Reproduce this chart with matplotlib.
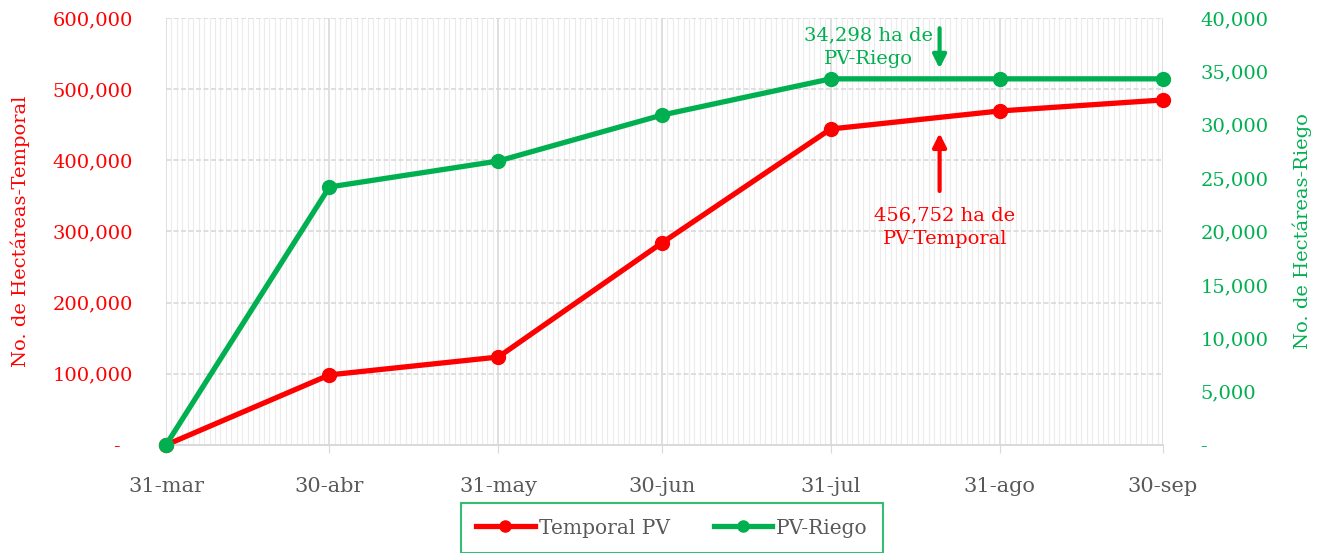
import matplotlib
matplotlib.use("Agg")
import matplotlib.pyplot as plt
import matplotlib.dates as mdates
import matplotlib.ticker as mticker
import numpy as np
from datetime import datetime

# data
fechas = ["2023-03-31", "2023-04-30", "2023-05-31", "2023-06-30", "2023-07-31", "2023-08-31", "2023-09-30"]
etiquetas = ["31-mar", "30-abr", "31-may", "30-jun", "31-jul", "31-ago", "30-sep"]
temporal = [0, 98500, 123600, 283800, 444000, 469300, 484800]
riego = [0, 24170, 26600, 30900, 34298, 34298, 34298]

RED = "#ff0000"; GREEN = "#00b050"; GRAY = "#595959"; GRID = "#d9d9d9"; MINOR = "#ececec"
plt.rcParams["font.family"] = ["DejaVu Serif"]

x = [datetime.strptime(f, "%Y-%m-%d") for f in fechas]

fig = plt.figure(figsize=(13.3, 5.53), dpi=100)
ax = fig.add_axes([0.1248, 0.1953, 0.7496, 0.7722])
ax2 = ax.twinx()

ax.plot(x, temporal, "-o", color=RED, lw=3.8, ms=10, clip_on=False, zorder=5, label="Temporal PV")
ax2.plot(x, riego, "-o", color=GREEN, lw=3.8, ms=10, clip_on=False, zorder=5, label="PV-Riego")

ax.set_xlim(x[0], x[-1])
ax.set_ylim(0, 600000)
ax2.set_ylim(0, 40000)
ax.set_yticks(np.arange(0, 600001, 100000))
ax2.set_yticks(np.arange(0, 40001, 5000))


def lfmt(v, p):
    return "-  " if v == 0 else "{:,.0f}".format(v)


def rfmt(v, p):
    return "-" if v == 0 else "{:,.0f}".format(v)


ax.yaxis.set_major_formatter(mticker.FuncFormatter(lfmt))
ax2.yaxis.set_major_formatter(mticker.FuncFormatter(rfmt))
ax.tick_params(axis="y", colors=RED, labelsize=14, length=0, pad=24)
ax2.tick_params(axis="y", colors=GREEN, labelsize=14, length=0, pad=27)

ax.set_xticks(x)
ax.set_xticklabels(etiquetas)
ax.xaxis.set_minor_locator(mdates.DayLocator())
ax.tick_params(axis="x", which="major", colors=GRID, labelcolor=GRAY, labelsize=15, length=6, pad=17)
ax.tick_params(axis="x", which="minor", length=0)

ax.grid(axis="x", which="minor", color=MINOR, lw=0.8, zorder=0)
ax.grid(axis="x", which="major", color=GRID, lw=1.2, zorder=0)
ax.grid(axis="y", color=GRID, lw=1.2, ls=(0, (3, 1.5)), zorder=0)
ax.set_axisbelow(True)
for a in (ax, ax2):
    for s in ("top", "right", "left"):
        a.spines[s].set_visible(False)
    a.spines["bottom"].set_color(GRID)
    a.spines["bottom"].set_linewidth(1.2)

ax.set_ylabel("No. de Hectáreas-Temporal", color=RED, fontsize=14, labelpad=16)
ax2.set_ylabel("No. de Hectáreas-Riego", color=GREEN, fontsize=14, labelpad=17)

# annotations
ax2.annotate("", xy=(datetime(2023, 8, 20), 35000), xytext=(datetime(2023, 8, 20), 39300),
             arrowprops=dict(arrowstyle="-|>", color=GREEN, lw=3, mutation_scale=20))
ax2.annotate("34,298 ha de\nPV-Riego", xy=(datetime(2023, 8, 20), 37250), xytext=(-5, 0),
             textcoords="offset points", color=GREEN, fontsize=14, ha="right", va="center",
             multialignment="center", linespacing=1.4)
ax.annotate("", xy=(datetime(2023, 8, 20), 442000), xytext=(datetime(2023, 8, 20), 353000),
            arrowprops=dict(arrowstyle="-|>", color=RED, lw=3, mutation_scale=20))
ax2.text(datetime(2023, 8, 21), 20420, "456,752 ha de\nPV-Temporal", color=RED, fontsize=14,
         ha="center", va="center", linespacing=1.4)

h1, l1 = ax.get_legend_handles_labels()
h2, l2 = ax2.get_legend_handles_labels()
leg = fig.legend(h1 + h2, l1 + l2, loc="center", bbox_to_anchor=(672 / 1330, 1 - 528 / 553),
                 ncol=2, fontsize=14.5, fancybox=False, handlelength=2.9, markerscale=0.8,
                 borderpad=0.75, columnspacing=2.2, handletextpad=0.2)
leg.get_frame().set_edgecolor(GREEN)
leg.get_frame().set_linewidth(1.5)
for t in leg.get_texts():
    t.set_color(GRAY)

fig.savefig("out.png", dpi=100)
